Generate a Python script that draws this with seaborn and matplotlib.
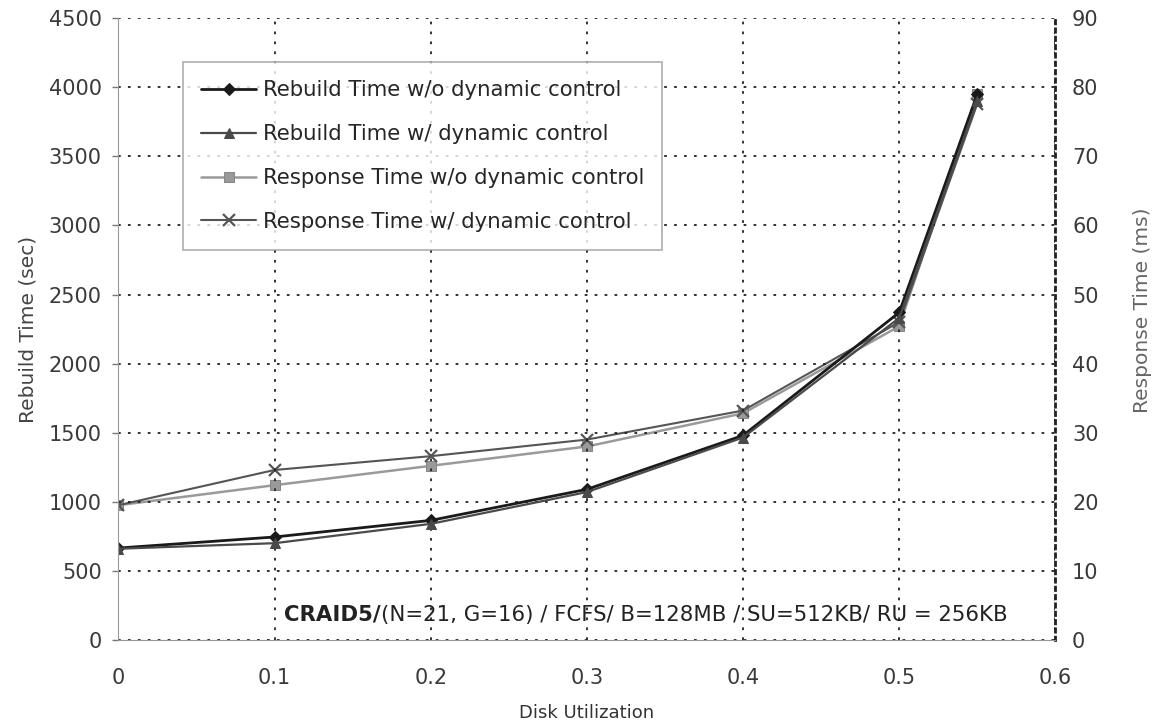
import numpy as np
import pandas as pd
import matplotlib
matplotlib.use("Agg")
import matplotlib.pyplot as plt
import seaborn as sns

util = [0.0, 0.1, 0.2, 0.3, 0.4, 0.5, 0.55]
rebuild_wo = [665, 745, 865, 1090, 1480, 2370, 3950]
rebuild_w = [660, 700, 840, 1070, 1465, 2330, 3900]
resp_wo = [19.5, 22.4, 25.2, 28.0, 32.8, 45.4, 79.0]
resp_w = [19.5, 24.6, 26.6, 29.0, 33.2, 46.0, 77.6]

sns.set_style("white")
plt.rcParams['font.family'] = ['DejaVu Sans']

fig = plt.figure(figsize=(11.61, 7.28), dpi=100)
ax = fig.add_axes([0.102, 0.121, 0.807, 0.854])
ax2 = ax.twinx()

df = pd.DataFrame({"u": util, "rwo": rebuild_wo, "rw": rebuild_w,
                   "pwo": resp_wo, "pw": resp_w})

sns.lineplot(data=df, x="u", y="rwo", ax=ax, color="#1a1a1a", lw=2,
             marker="D", markersize=6, mec="#1a1a1a",
             label="Rebuild Time w/o dynamic control", legend=False)
sns.lineplot(data=df, x="u", y="rw", ax=ax, color="#4a4a4a", lw=1.6,
             marker="^", markersize=7, mec="#4a4a4a",
             label="Rebuild Time w/ dynamic control", legend=False)
sns.lineplot(data=df, x="u", y="pwo", ax=ax2, color="#9a9a9a", lw=1.8,
             marker="s", markersize=7, mec="#888888",
             label="Response Time w/o dynamic control", legend=False)
sns.lineplot(data=df, x="u", y="pw", ax=ax2, color="#555555", lw=1.5,
             marker="x", markersize=9, mew=1.6, mec="#555555",
             label="Response Time w/ dynamic control", legend=False)

ax.set_xlim(0, 0.6)
ax.set_ylim(0, 4500)
ax2.set_ylim(0, 90)
ax.set_xticks(np.arange(0, 0.61, 0.1))
ax.set_xticklabels(["0", "0.1", "0.2", "0.3", "0.4", "0.5", "0.6"])
ax.set_yticks(np.arange(0, 4501, 500))
ax2.set_yticks(np.arange(0, 91, 10))

ax.grid(True, color="#222222", ls=(0, (1.5, 4)), lw=1.3)
ax.spines["top"].set_visible(False)
ax2.spines["top"].set_visible(False)
ax2.spines["bottom"].set_visible(False)
ax2.spines["left"].set_visible(False)
ax.spines["left"].set_color("#999999")
ax.spines["bottom"].set_color("#999999")
ax.spines["right"].set_visible(False)
ax2.spines["right"].set_color("#222222")
ax2.spines["right"].set_linestyle((0, (1.2, 1.8)))
ax2.spines["right"].set_linewidth(2.0)

ax.tick_params(axis="y", labelsize=15, colors="#3a3a3a", length=4, width=1,
               direction="out", pad=8, color="#777777")
ax.tick_params(axis="x", labelsize=15, colors="#3a3a3a", length=4, width=1,
               direction="in", pad=20, color="#999999")
ax2.tick_params(labelsize=15, colors="#3a3a3a", length=0, pad=12)
ax.set_xlabel("Disk Utilization", fontsize=13, color="#333333", labelpad=12)
ax.set_ylabel("Rebuild Time (sec)", fontsize=14.5, color="#444444", labelpad=8)
ax2.set_ylabel("Response Time (ms)", fontsize=14.5, color="#666666")
ax2.yaxis.set_label_coords(1.083, 0.53)

h1, l1 = ax.get_legend_handles_labels()
h2, l2 = ax2.get_legend_handles_labels()
leg = ax.legend(h1 + h2, l1 + l2, loc="upper left", bbox_to_anchor=(0.069, 0.929),
                borderaxespad=0, fontsize=15.3, frameon=True, fancybox=False,
                edgecolor="#999999", handlelength=2.6, labelspacing=1.12,
                borderpad=0.85, handletextpad=0.3)
leg.get_frame().set_linewidth(1.2)
ax.set_zorder(ax2.get_zorder() + 1)
ax.patch.set_visible(False)

t1 = ax.text(0.106, 140, "CRAID5/", fontsize=15.3, fontweight="bold", color="#222222")
ax.annotate("(N=21, G=16) / FCFS/ B=128MB / SU=512KB/ RU = 256KB",
            xy=(1, 0), xycoords=t1, va="bottom", ha="left",
            fontsize=15.3, color="#222222")

fig.savefig("out.png", dpi=100)
